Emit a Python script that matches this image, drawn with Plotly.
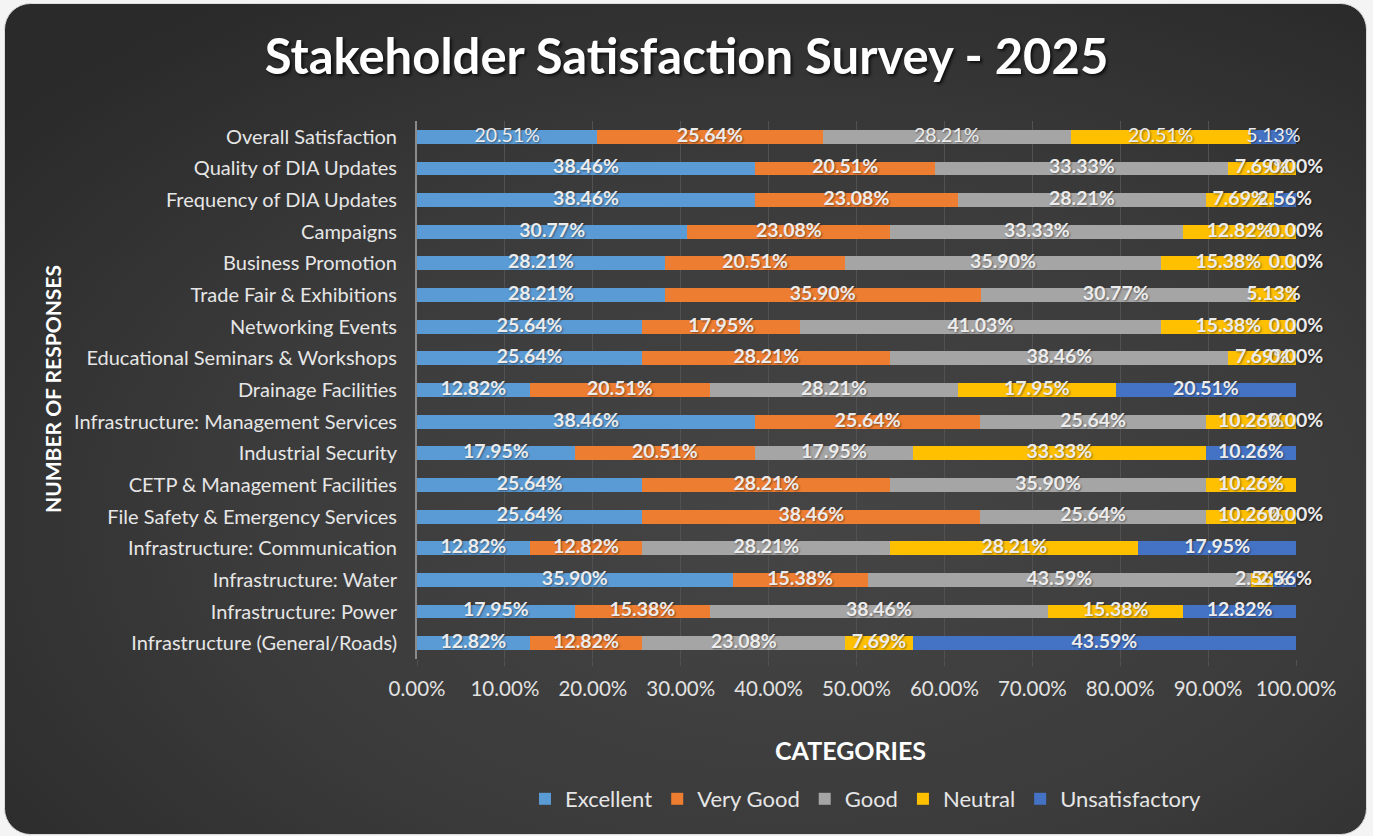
import base64
import plotly.graph_objects as go

# ---------------- data ----------------
categories = [
    "Overall Satisfaction",
    "Quality of DIA Updates",
    "Frequency of DIA Updates",
    "Campaigns",
    "Business Promotion",
    "Trade Fair & Exhibitions",
    "Networking Events",
    "Educational Seminars & Workshops",
    "Drainage Facilities",
    "Infrastructure: Management Services",
    "Industrial Security",
    "CETP & Management Facilities",
    "File Safety & Emergency Services",
    "Infrastructure: Communication",
    "Infrastructure: Water",
    "Infrastructure: Power",
    "Infrastructure (General/Roads)",
]
excellent = [20.51, 38.46, 38.46, 30.77, 28.21, 28.21, 25.64, 25.64, 12.82, 38.46, 17.95, 25.64, 25.64, 12.82, 35.90, 17.95, 12.82]
very_good = [25.64, 20.51, 23.08, 23.08, 20.51, 35.90, 17.95, 28.21, 20.51, 25.64, 20.51, 28.21, 38.46, 12.82, 15.38, 15.38, 12.82]
good = [28.21, 33.33, 28.21, 33.33, 35.90, 30.77, 41.03, 38.46, 28.21, 25.64, 17.95, 35.90, 25.64, 28.21, 43.59, 38.46, 23.08]
neutral = [20.51, 7.69, 7.69, 12.82, 15.38, 5.13, 15.38, 7.69, 17.95, 10.26, 33.33, 10.26, 10.26, 28.21, 2.56, 15.38, 7.69]
unsatisfactory = [5.13, 0.00, 2.56, 0.00, 0.00, None, 0.00, 0.00, 20.51, 0.00, 10.26, 0.00, 0.00, 17.95, 2.56, 12.82, 43.59]

series_names = ["Excellent", "Very Good", "Good", "Neutral", "Unsatisfactory"]
series_values = [excellent, very_good, good, neutral, unsatisfactory]
series_colors = ["#5B9BD5", "#ED7D31", "#A5A5A5", "#FFC000", "#4472C4"]

x_tick_values = [0, 10, 20, 30, 40, 50, 60, 70, 80, 90, 100]
x_tick_labels = [f"{v:.2f}%" for v in x_tick_values]

# data labels shown in regular (not bold) weight
regular_weight_labels = [
    ("Overall Satisfaction", "Excellent"),
    ("Overall Satisfaction", "Good"),
    ("Overall Satisfaction", "Neutral"),
    ("Overall Satisfaction", "Unsatisfactory"),
]

# ---------------- layout geometry ----------------
W, H = 1373, 836
L, R, T, B = 417, 77, 121, 177
PW, PH = W - L - R, H - T - B
FONT = "Lato"


def px_x(px):
    return (px - L) / PW


def px_y(py):
    return (H - B - py) / PH


# background: rounded dark panel with a soft radial gradient
svg = f"""<svg xmlns='http://www.w3.org/2000/svg' width='{W}' height='{H}' viewBox='0 0 {W} {H}'>
<defs><radialGradient id='g' cx='0.58' cy='0.62' r='0.75'>
<stop offset='0' stop-color='#454545'/><stop offset='0.55' stop-color='#3b3b3b'/><stop offset='1' stop-color='#2a2a2a'/>
</radialGradient></defs>
<rect x='0' y='0' width='{W}' height='{H}' fill='#f4f4f4'/>
<rect x='4.5' y='3.5' width='1362' height='831' rx='26' ry='26' fill='url(#g)' stroke='#dcdcdc' stroke-width='1'/>
</svg>"""
bg_uri = "data:image/svg+xml;base64," + base64.b64encode(svg.encode()).decode()

fig = go.Figure()

for name, vals, color in zip(series_names, series_values, series_colors):
    fig.add_trace(go.Bar(
        name=name,
        y=categories,
        x=vals,
        orientation="h",
        marker=dict(color=color, line=dict(width=0)),
        hoverinfo="x+y+name",
    ))

# data labels centred on each segment (computed from the stacked values)
lab_x, lab_y, lab_t = [], [], []
for i, cat in enumerate(categories):
    start = 0.0
    for name, vals in zip(series_names, series_values):
        v = vals[i]
        if v is None:
            continue
        txt = f"{v:.2f}%"
        if (cat, name) not in regular_weight_labels:
            txt = f"<b>{txt}</b>"
        lab_x.append(start + v / 2)
        lab_y.append(cat)
        lab_t.append(txt)
        start += v

fig.add_trace(go.Scatter(
    x=lab_x, y=lab_y, text=lab_t, mode="text",
    textposition="middle center",
    textfont=dict(family=FONT, size=19.5, color="#ececec",
                  shadow="1px 1px 2px rgba(0,0,0,0.45)"),
    showlegend=False, hoverinfo="skip", cliponaxis=False,
))

n = len(categories)
fig.update_layout(
    width=W, height=H,
    margin=dict(l=L, r=R, t=T, b=B, pad=0),
    paper_bgcolor="#f4f4f4",
    plot_bgcolor="rgba(0,0,0,0)",
    barmode="stack",
    bargap=0.56,
    font=dict(family=FONT, color="#e6e6e6"),
    title=dict(
        text="<b>Stakeholder Satisfaction Survey - 2025</b>",
        x=0.5, xref="container", xanchor="center",
        y=1 - 57 / H, yref="container", yanchor="middle",
        font=dict(family=FONT, size=49, color="#ffffff",
                  shadow="2px 2px 3px rgba(0,0,0,0.7)"),
    ),
    xaxis=dict(
        range=[0, 100],
        tickmode="array", tickvals=x_tick_values, ticktext=x_tick_labels,
        showgrid=True, gridcolor="#515151", gridwidth=1,
        zeroline=False, showline=False,
        ticks="outside", ticklen=6, tickcolor="#515151",
        tickfont=dict(family=FONT, size=20.5, color="#e2e2e2"),
        ticklabelstandoff=5,
        fixedrange=True,
    ),
    yaxis=dict(
        range=[n - 0.5, -0.5],
        showgrid=False, zeroline=False,
        showline=True, linecolor="#8a8a8a", linewidth=2,
        ticks="", ticklabelstandoff=14,
        tickfont=dict(family=FONT, size=20, color="#e6e6e6"),
        fixedrange=True,
    ),
    legend=dict(
        orientation="h",
        x=px_x(866), xref="paper", xanchor="center",
        y=px_y(799), yref="paper", yanchor="middle",
        font=dict(family=FONT, size=22, color="#e6e6e6"),
        bgcolor="rgba(0,0,0,0)",
        traceorder="normal",
    ),
    images=[dict(
        source=bg_uri, xref="paper", yref="paper",
        x=-L / PW, y=1 + T / PH, sizex=W / PW, sizey=H / PH,
        xanchor="left", yanchor="top", sizing="stretch", layer="below",
    )],
    annotations=[
        dict(text="<b>CATEGORIES</b>", xref="paper", yref="paper",
             x=px_x(850), y=px_y(750), showarrow=False,
             xanchor="center", yanchor="middle",
             font=dict(family=FONT, size=25, color="#ffffff")),
        dict(text="<b>NUMBER OF RESPONSES</b>", xref="paper", yref="paper",
             x=px_x(52), y=px_y(389), showarrow=False, textangle=-90,
             xanchor="center", yanchor="middle",
             font=dict(family=FONT, size=21, color="#ffffff")),
    ],
)

fig.write_html(
    "out.html",
    config={"displayModeBar": False},
    post_script="document.body.style.margin='0';document.body.style.overflow='hidden';",
)
